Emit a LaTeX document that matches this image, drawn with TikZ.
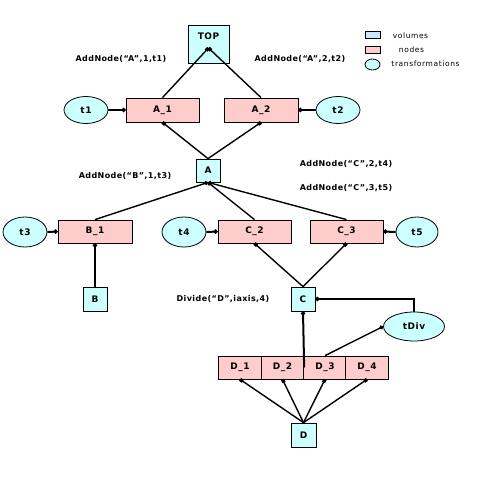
\documentclass[tikz,border=0pt]{standalone}
\usepackage{fontspec}
\setmainfont{DejaVu Sans}
\newfontfamily\boxfont[LetterSpace=6]{DejaVu Sans}
\newfontfamily\callfont[LetterSpace=5]{DejaVu Sans}
\newfontfamily\legendfont[LetterSpace=8]{DejaVu Sans}
\usetikzlibrary{arrows.meta,shapes.geometric}
\definecolor{volcyan}{RGB}{204,255,255}
\definecolor{nodepink}{RGB}{255,204,204}
\definecolor{legblue}{RGB}{204,232,255}

\begin{document}
\begin{tikzpicture}[x=1pt, y=-1pt,
  volume/.style={draw=black, line width=0.8pt, fill=volcyan, inner sep=0pt,
    minimum width=24pt, minimum height=24pt, font=\boxfont\bfseries\fontsize{9}{11}\selectfont},
  nodebox/.style={volume, fill=nodepink, minimum width=73pt, minimum height=24pt},
  trafo/.style={volume, ellipse, minimum width=44pt, minimum height=27pt},
  call/.style={font=\callfont\bfseries\fontsize{8}{10}\selectfont},
  legtext/.style={font=\legendfont\fontsize{7.5}{9}\selectfont},
  link/.style={line width=1.4pt},
  bond/.style={line width=2pt},
  dotstart/.style={{Circle[length=4pt]}-},
  dotend/.style={-{Circle[length=4pt]}},
  sqstart/.style={{Square[length=3.5pt,width=3.5pt]}-}]
  \fill[white] (0,0) rectangle (480,480);
  \useasboundingbox (0,0) rectangle (480,480);

  % volumes
  \node[volume, minimum width=41pt, minimum height=38pt, text height=7pt, text depth=17pt] (top) at (208.5,44) {TOP};
  \node[volume, minimum height=23pt] (a) at (208,170.5) {A};
  \node[volume] (b) at (95,299) {B};
  \node[volume] (c) at (303,299) {C};
  \node[volume, minimum width=25pt] (d) at (303.5,435) {D};
  \coordinate (topdot) at (208.5,48);

  % nodes
  \node[nodebox] (a1) at (162.5,110) {A\_1};
  \node[nodebox, minimum width=74pt] (a2) at (261,110) {A\_2};
  \node[nodebox, minimum width=74pt, minimum height=23pt] (b1) at (95,231.5) {B\_1};
  \node[nodebox, minimum height=23pt] (c2) at (254.5,231.5) {C\_2};
  \node[nodebox, minimum height=23pt] (c3) at (346.5,231.5) {C\_3};
  \node[nodebox, minimum width=42.5pt, minimum height=23pt] (d1) at (240,367.5) {D\_1};
  \node[nodebox, minimum width=42.5pt, minimum height=23pt] (d2) at (282.5,367.5) {D\_2};
  \node[nodebox, minimum width=42.5pt, minimum height=23pt] (d3) at (325,367.5) {D\_3};
  \node[nodebox, minimum width=42.5pt, minimum height=23pt] (d4) at (367,367.5) {D\_4};

  % transformations
  \node[trafo] (t1) at (86,110) {t1};
  \node[trafo] (t2) at (338,110) {t2};
  \node[trafo, minimum height=30pt] (t3) at (25,232) {t3};
  \node[trafo, minimum height=30pt] (t4) at (184,232) {t4};
  \node[trafo, minimum width=42pt, minimum height=30pt] (t5) at (417,232) {t5};
  \node[trafo, minimum width=61pt, minimum height=29pt] (tdiv) at (414,326.5) {tDiv};

  % calls
  \node[call] (call1) at (121,59) {AddNode(“A”,1,t1)};
  \node[call] (call2) at (300,59) {AddNode(“A”,2,t2)};
  \node[call] (call3) at (125,176) {AddNode(“B”,1,t3)};
  \node[call] (call4) at (346,164) {AddNode(“C”,2,t4)};
  \node[call] (call5) at (346,188) {AddNode(“C”,3,t5)};
  \node[call] (call6) at (223,299) {Divide(“D”,iaxis,4)};

  % connectors
  \draw[link, sqstart] (topdot) -- (a1.north);
  \draw[link, sqstart] (topdot) -- (a2.north);
  \draw[link, sqstart] (a1.south) -- (a.north);
  \draw[link, sqstart] (a2.south) -- (a.north);
  \draw[link, dotstart] (a.south) -- (b1.north);
  \draw[link, dotstart] (a.south) -- (c2.north);
  \draw[link, dotstart] (a.south) -- (c3.north);
  \draw[bond, dotend] (t1.east) -- (a1.west);
  \draw[bond, dotend] (t2.west) -- (a2.east);
  \draw[bond, dotend] (t3.east) -- (b1.west);
  \draw[bond, dotend] (t4.east) -- (c2.west);
  \draw[bond, dotend] (t5.west) -- (c3.east);
  \draw[bond, dotstart] (b1.south) -- (b.north);
  \draw[link, sqstart] (c2.south) -- (c.north);
  \draw[link, sqstart] (c3.south) -- (c.north);
  \draw[bond, dotstart] (c.east) -| (tdiv.north);
  \draw[bond, dotend] (d2.east) -- (c.south);
  \draw[link, dotend] (d3.north) -- (tdiv.west);
  \draw[link, sqstart] (d1.south) -- (d.north);
  \draw[link, sqstart] (d2.south) -- (d.north);
  \draw[link, sqstart] (d3.south) -- (d.north);
  \draw[link, sqstart] (d4.south) -- (d.north);

  % legend
  \node[volume, fill=legblue, minimum width=15pt, minimum height=7pt] (lvol) at (372.5,35) {};
  \node[volume, fill=nodepink, minimum width=15pt, minimum height=7pt] (lnode) at (372.5,50) {};
  \node[volume, ellipse, minimum width=15pt, minimum height=11pt] (ltrafo) at (372.5,64.5) {};
  \node[legtext] (lvoltext) at (410.5,36) {volumes};
  \node[legtext] (lnodetext) at (411.5,50) {nodes};
  \node[legtext] (ltrafotext) at (425.5,64) {transformations};
\end{tikzpicture}
\end{document}
